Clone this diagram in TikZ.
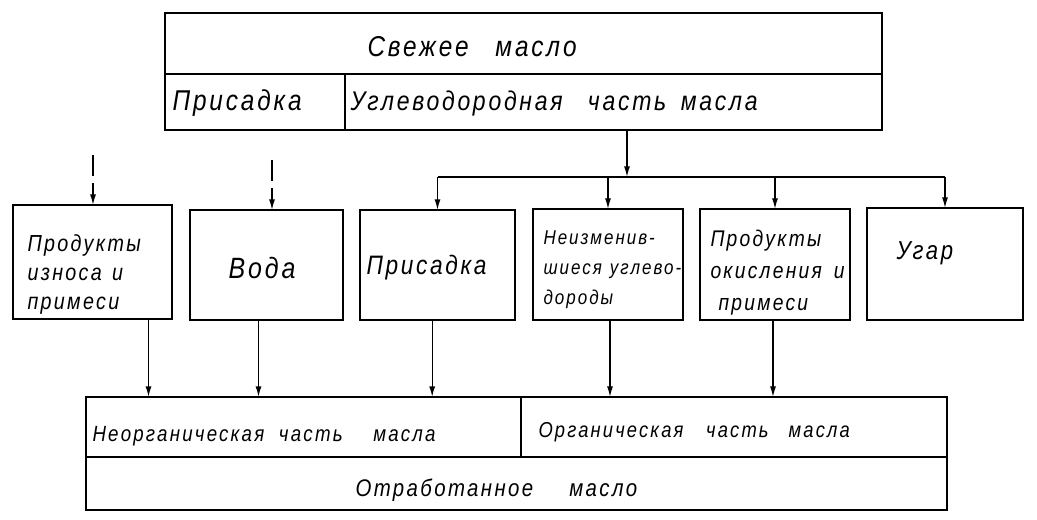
\documentclass[tikz,border=0pt]{standalone}
\usepackage{fontspec}
\setmainfont{Liberation Sans}
\newfontfamily\hand{Liberation Sans}[LetterSpace=10,FakeStretch=0.85]
\newfontfamily\handtight{Liberation Sans}[LetterSpace=10,WordSpace=1.3,FakeStretch=0.85]
\usetikzlibrary{arrows.meta}
\newcommand{\handsize}[2]{\hand\itshape\fontsize{#1}{#2}\selectfont}
\newcommand{\boxsize}[2]{\handtight\itshape\fontsize{#1}{#2}\selectfont}

\tikzset{every picture/.style={line width=0.75pt}}

\begin{document}
\begin{tikzpicture}[x=0.75pt,y=0.75pt,yscale=-1,xscale=1,
  box/.style={draw, line width=1.4pt, inner sep=0pt, outer sep=0pt, anchor=north west},
  lbl/.style={inner sep=0pt, anchor=west, align=left},
  conn/.style={line width=1pt},
  arr/.style={conn, -{Latex[length=8pt,width=4.5pt]}},
  arrin/.style={arr, dash pattern=on 16pt off 5pt}]
\useasboundingbox (0,0) rectangle (1037,519);

%Fresh oil
\node[box, minimum width=537.75pt, minimum height=45.75pt] (fresh) at (165,13) {};
\node[box, minimum width=135pt, minimum height=42pt] (addtop) at (fresh.south west) {};
\node[box, minimum width=402.75pt, minimum height=42pt] (hydro) at (addtop.north east) {};

%Components
\node[box, minimum width=119.25pt, minimum height=85.5pt] (wear) at (13,205) {};
\node[box, minimum width=114.75pt, minimum height=82.5pt] (water) at (190,210) {};
\node[box, minimum width=116.25pt, minimum height=82.5pt] (additive) at (360,210) {};
\node[box, minimum width=112.5pt, minimum height=83.25pt] (hydrocarb) at (533,209) {};
\node[box, minimum width=112.5pt, minimum height=83.25pt] (oxid) at (700,209) {};
\node[box, minimum width=117pt, minimum height=84pt] (burn) at (867,208) {};

%Used oil
\node[box, minimum width=326.25pt, minimum height=45pt] (inorg) at (86,397) {};
\node[box, minimum width=319.5pt, minimum height=45pt] (org) at (inorg.north east) {};
\node[box, minimum width=645.75pt, minimum height=39.75pt] (used) at (inorg.south west) {};

% Text Node
\node[lbl, font=\handsize{21.5}{24}] (freshtxt) at (367,47) {Свежее\hspace{20pt}масло};
\node[lbl, font=\handsize{21.5}{24}] (addtoptxt) at (172,103) {Присадка};
\node[lbl, font=\handsize{20.3}{24}] (hydrotxt) at (350,103) {Углеводородная\hspace{19pt}часть\hspace{11pt}масла};
\node[lbl, font=\boxsize{17.4}{21.75}] (weartxt) at (27,274) {Продукты\\износа и\\примеси};
\node[lbl, font=\handsize{22}{24}] (watertxt) at (228,268) {Вода};
\node[lbl, font=\handsize{20}{24}] (additivetxt) at (366,268) {Присадка};
\node[lbl, font=\boxsize{15}{22.5}] (hydrocarbtxt) at (543,270) {Неизменив-\\шиеся\hspace{6pt}углево-\\дороды};
\node[lbl, font=\boxsize{17}{24}] (oxidtxt) at (710,273) {Продукты\\окисления\hspace{9pt}и\\\hspace{6pt}примеси};
\node[lbl, font=\handsize{19.5}{24}] (burntxt) at (896,253) {Угар};
\node[lbl, font=\handsize{16.5}{22}] (inorgtxt) at (92,436) {Неорганическая\hspace{11pt}часть\hspace{23pt}масла};
\node[lbl, font=\handsize{16.2}{22}] (orgtxt) at (538,432) {Органическая\hspace{17pt}часть\hspace{15pt}масла};
\node[lbl, font=\handsize{18}{22}] (usedtxt) at (355,490) {Отработанное\hspace{27pt}масло};

%Straight Lines
\coordinate (split) at (627,177);
\draw[arr] (hydro.south -| split) -- (split);
\draw[conn] (split -| additive.north) -- (split -| burn.north);
\foreach \n in {additive,hydrocarb,oxid,burn}
  \draw[arr] (split -| \n.north) -- (\n.north);

\coordinate (wearin) at (93,155);
\coordinate (waterin) at (272,160);
\draw[arrin] (wearin) -- (wearin |- wear.north);
\draw[arrin] (waterin) -- (waterin |- water.north);

\foreach \n/\dx in {wear/42,water/-6,additive/-4,hydrocarb/1.5,oxid/-1.5}{
  \coordinate (\n out) at ([xshift=\dx pt]\n.south);
  \draw[arr] (\n out) -- (\n out |- inorg.north);
}

\end{tikzpicture}
\end{document}
